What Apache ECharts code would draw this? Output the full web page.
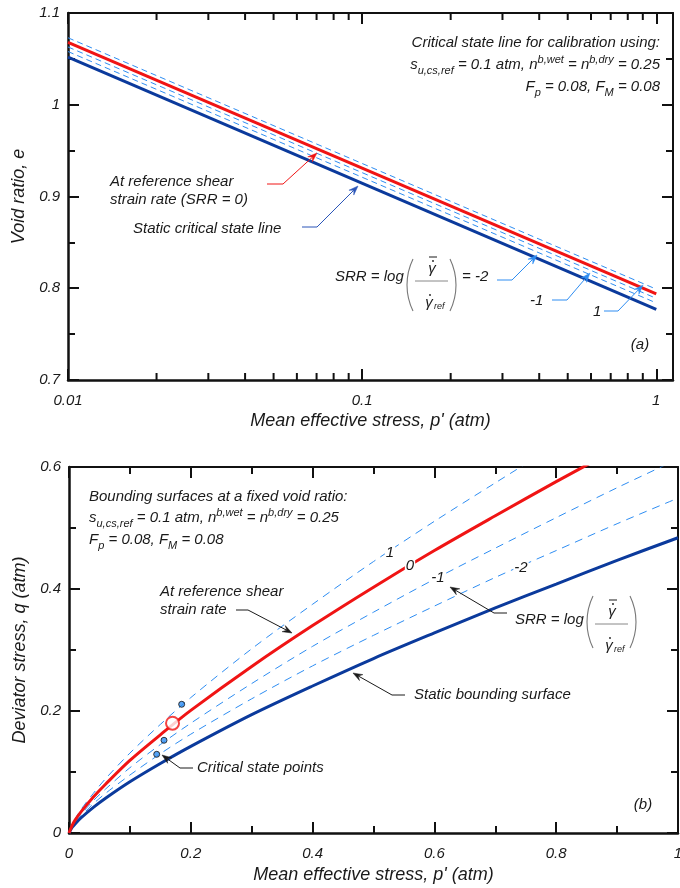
<!DOCTYPE html>
<html>
<head>
<meta charset="utf-8">
<script src="https://cdn.jsdelivr.net/npm/echarts@6/dist/echarts.min.js"></script>
<style>
html, body { margin: 0; padding: 0; background: #fff; }
#chart { width: 680px; height: 888px; }
</style>
</head>
<body>
<div id="chart"></div>
<script>
// (a) critical state lines: e at p' = 0.01 and 1 atm (straight on log axis)
var pA = [0.01, 1];
var eStatic = [1.052, 0.777];
var eRef = [1.068, 0.794];
var eP1 = [1.073, 0.799];
var eM1 = [1.063, 0.789];
var eM2 = [1.058, 0.784];
var minorA = [0.02, 0.03, 0.04, 0.05, 0.06, 0.07, 0.08, 0.09, 0.2, 0.3, 0.4, 0.5, 0.6, 0.7, 0.8, 0.9];

// (b) bounding surfaces, q read along p'
var pB = [0, 0.005, 0.01, 0.02, 0.04, 0.06, 0.1, 0.15, 0.2, 0.3, 0.4, 0.5, 0.6, 0.7, 0.8, 0.9, 1.0];
var qStatic = [0, 0.009, 0.015, 0.025, 0.042, 0.057, 0.084, 0.114, 0.142, 0.194, 0.241, 0.286, 0.328, 0.369, 0.408, 0.447, 0.484];
var qM2 = [0, 0.010, 0.017, 0.028, 0.048, 0.065, 0.095, 0.130, 0.162, 0.220, 0.274, 0.324, 0.372, 0.419, 0.463, 0.507, 0.549];
var qM1 = [0, 0.011, 0.019, 0.031, 0.053, 0.072, 0.107, 0.145, 0.180, 0.245, 0.306, 0.362, 0.416, 0.467, 0.517, 0.566, 0.613];
var qRef = [0, 0.012, 0.021, 0.035, 0.059, 0.080, 0.119, 0.161, 0.201, 0.273, 0.340, 0.403, 0.463, 0.520, 0.576, 0.630, 0.682];
var qP1 = [0, 0.013, 0.023, 0.039, 0.065, 0.089, 0.131, 0.178, 0.222, 0.302, 0.375, 0.445, 0.511, 0.574, 0.636, 0.695, 0.753];
var csPoints = [[0.185, 0.211], [0.156, 0.152], [0.144, 0.129]];
var refPoint = [[0.170, 0.180]];

var RED = '#f01414', BLUE = '#0b3a9c', LBLUE = '#2e8df2', INK = '#1a1a1a';
var FF = '"Liberation Sans", Arial, sans-serif';
var F15 = 'italic 15px ' + FF;

function zip(xs, ys) {
    return xs.map(function (x, i) { return [x, ys[i]]; });
}

function lineSeries(xi, data, color, width, dashed, dash) {
    return {
        type: 'line', xAxisIndex: xi, yAxisIndex: xi, data: data,
        showSymbol: false, symbol: 'none', smooth: xi === 2 ? 0.3 : false,
        lineStyle: { color: color, width: width, type: dashed ? dash : 'solid' },
        silent: true, z: dashed ? 2 : 3
    };
}

function axisBase(extra) {
    var a = {
        axisLine: { show: true, onZero: false, lineStyle: { color: '#111', width: 2.5 } },
        axisTick: { show: true, inside: true, length: 11, lineStyle: { color: '#111', width: 2 } },
        axisLabel: { fontStyle: 'italic', fontFamily: FF, fontSize: 15, color: INK },
        splitLine: { show: false },
        nameTextStyle: { fontStyle: 'italic', fontFamily: FF, fontSize: 18, color: INK }
    };
    return Object.assign(a, extra);
}

// ---- annotation helpers ----
function txt(x, y, s, extra) {
    return {
        type: 'text', x: x, y: y, z: 100, silent: true,
        style: Object.assign({ text: s, font: F15, fill: INK, align: 'left', verticalAlign: 'middle',
            textAlign: 'left', textVerticalAlign: 'middle' }, extra || {})
    };
}
function richTxt(x, y, s, align) {
    return {
        type: 'text', x: x, y: y, z: 100, silent: true,
        style: {
            text: s, font: F15, fill: INK, align: align, verticalAlign: 'middle',
            textAlign: align, textVerticalAlign: 'middle',
            rich: {
                b: { font: F15, fill: INK, lineHeight: 22 },
                sub: { font: 'italic 11px ' + FF, fill: INK, lineHeight: 11, verticalAlign: 'bottom' },
                sup: { font: 'italic 11px ' + FF, fill: INK, lineHeight: 11, verticalAlign: 'top' }
            }
        }
    };
}
function arrow(pts, color) {
    var n = pts.length, p1 = pts[n - 2], p2 = pts[n - 1];
    var ang = Math.atan2(p2[1] - p1[1], p2[0] - p1[0]);
    var L = 10, a = 0.35;
    var h1 = [p2[0] - L * Math.cos(ang - a), p2[1] - L * Math.sin(ang - a)];
    var h2 = [p2[0] - L * Math.cos(ang + a), p2[1] - L * Math.sin(ang + a)];
    var nb = [p2[0] - 0.6 * L * Math.cos(ang), p2[1] - 0.6 * L * Math.sin(ang)];
    return [
        { type: 'polyline', z: 100, silent: true, shape: { points: pts.slice(0, n - 1).concat([nb]) },
          style: { stroke: color, lineWidth: 1, fill: null } },
        { type: 'polygon', z: 100, silent: true, shape: { points: [h1, p2, h2, nb] },
          style: { fill: color, stroke: color, lineWidth: 0.5 } }
    ];
}
function paren(xl, cy, h, w, left) {
    var half = h / 2, r = (half * half + w * w) / (2 * w), al = Math.asin(half / r);
    var shape = left
        ? { cx: xl + r, cy: cy, r: r, startAngle: Math.PI - al, endAngle: Math.PI + al, clockwise: true }
        : { cx: xl + w - r, cy: cy, r: r, startAngle: -al, endAngle: al, clockwise: true };
    return { type: 'arc', z: 100, silent: true, shape: shape, style: { stroke: '#777', lineWidth: 1.1, fill: null } };
}
// SRR = log( gamma-bar-dot / gamma-dot-ref ) [tail]
function srr(x0, yc, pc, tail) {
    var out = [];
    out.push(txt(x0, yc, 'SRR = log'));
    var px = x0 + 72;
    out.push(paren(px, yc + pc, 52, 6, true));
    // numerator
    out.push(txt(px + 25, yc - 8, 'γ', { align: 'center', textAlign: 'center' }));
    out.push({ type: 'circle', z: 100, silent: true, shape: { cx: px + 26, cy: yc - 16, r: 0.9 }, style: { fill: INK } });
    out.push({ type: 'line', z: 100, silent: true, shape: { x1: px + 22, y1: yc - 20, x2: px + 30, y2: yc - 20 }, style: { stroke: INK, lineWidth: 1 } });
    // fraction bar
    out.push({ type: 'line', z: 100, silent: true, shape: { x1: px + 8, y1: yc + 4, x2: px + 41, y2: yc + 4 }, style: { stroke: '#888', lineWidth: 1 } });
    // denominator
    out.push(txt(px + 22, yc + 26, 'γ', { align: 'center', textAlign: 'center' }));
    out.push({ type: 'circle', z: 100, silent: true, shape: { cx: px + 23, cy: yc + 18, r: 0.9 }, style: { fill: INK } });
    out.push(txt(px + 27, yc + 29, 'ref', { font: 'italic 9px ' + FF }));
    out.push(paren(px + 43, yc + pc, 52, 6, false));
    if (tail) out.push(txt(px + 55, yc, tail));
    return out;
}

var graphics = [];
// panel (a) texts
graphics.push(richTxt(660, 43, '{b|Critical state line for calibration using:}', 'right'));
graphics.push(richTxt(660, 65, '{b|s}{sub|u,cs,ref}{b| = 0.1 atm, n}{sup|b,wet}{b| = n}{sup|b,dry}{b| = 0.25}', 'right'));
graphics.push(richTxt(660, 87, '{b|F}{sub|p}{b| = 0.08, F}{sub|M}{b| = 0.08}', 'right'));
graphics.push(txt(110, 182, 'At reference shear'));
graphics.push(txt(110, 200, 'strain rate (SRR = 0)'));
graphics = graphics.concat(arrow([[267, 184], [283, 184], [317, 153]], RED));
graphics.push(txt(133, 229, 'Static critical state line'));
graphics = graphics.concat(arrow([[302, 227], [317, 227], [358, 186]], '#2a55b8'));
graphics = graphics.concat(srr(335, 277, 8, '= -2'));
graphics = graphics.concat(arrow([[497, 280], [512, 280], [537, 255]], LBLUE));
graphics.push(txt(530, 301, '-1'));
graphics = graphics.concat(arrow([[552, 300], [567, 300], [590, 273]], LBLUE));
graphics.push(txt(593, 312, '1'));
graphics = graphics.concat(arrow([[604, 311], [618, 311], [643, 285]], LBLUE));
graphics.push(txt(640, 345, '(a)', { align: 'center', textAlign: 'center' }));

// panel (b) texts
graphics.push(richTxt(89, 497, '{b|Bounding surfaces at a fixed void ratio:}', 'left'));
graphics.push(richTxt(89, 518, '{b|s}{sub|u,cs,ref}{b| = 0.1 atm, n}{sup|b,wet}{b| = n}{sup|b,dry}{b| = 0.25}', 'left'));
graphics.push(richTxt(89, 540, '{b|F}{sub|p}{b| = 0.08, F}{sub|M}{b| = 0.08}', 'left'));
graphics.push(txt(160, 592, 'At reference shear'));
graphics.push(txt(160, 610, 'strain rate'));
graphics = graphics.concat(arrow([[236, 610], [248, 610], [292, 633]], INK));
var lblBg = { backgroundColor: '#fff', padding: [0, 1], align: 'center', textAlign: 'center' };
graphics.push(txt(390, 553, '1', lblBg));
graphics.push(txt(410, 566, '0', lblBg));
graphics.push(txt(438, 578, '-1', lblBg));
graphics.push(txt(521, 568, '-2', lblBg));
graphics = graphics.concat(srr(515, 620, 2, null));
graphics = graphics.concat(arrow([[507, 613], [494, 613], [450, 587]], INK));
graphics.push(txt(414, 695, 'Static bounding surface'));
graphics = graphics.concat(arrow([[405, 695], [392, 695], [353, 673]], INK));
graphics.push(txt(197, 768, 'Critical state points'));
graphics = graphics.concat(arrow([[193, 768], [180, 768], [162, 755]], INK));
graphics.push(txt(643, 805, '(b)', { align: 'center', textAlign: 'center' }));

var myChart = echarts.init(document.getElementById('chart'), null, { renderer: 'canvas' });

var option = {
    animation: false,
    backgroundColor: '#fff',
    grid: [
        { left: 68, top: 13, width: 605, height: 367, outerBoundsMode: 'none', containLabel: false },
        { left: 69, top: 467, width: 609, height: 366, outerBoundsMode: 'none', containLabel: false }
    ],
    xAxis: [
        axisBase({
            gridIndex: 0, type: 'log', logBase: 10, min: 0.01, max: 1.14, position: 'bottom',
            name: "Mean effective stress, p' (atm)", nameLocation: 'middle', nameGap: 32,
            axisLabel: { fontStyle: 'italic', fontFamily: FF, fontSize: 15, color: INK, margin: 13,
                formatter: function (v) {
                    var l = Math.log10(v);
                    if (Math.abs(l - Math.round(l)) > 1e-6) return '';
                    return String(+Math.pow(10, Math.round(l)).toPrecision(3));
                } }
        }),
        axisBase({
            gridIndex: 0, type: 'log', logBase: 10, min: 0.01, max: 1.14, position: 'top',
            axisLabel: { show: false }, axisLine: { show: true, onZero: false, lineStyle: { color: '#111', width: 2 } }
        }),
        axisBase({
            gridIndex: 1, type: 'value', min: 0, max: 1, interval: 0.2, position: 'bottom',
            name: "Mean effective stress, p' (atm)", nameLocation: 'middle', nameGap: 33,
            minorTick: { show: true, splitNumber: 2, length: 7, lineStyle: { color: '#111', width: 2 } },
            axisLabel: { fontStyle: 'italic', fontFamily: FF, fontSize: 15, color: INK, margin: 13 }
        }),
        axisBase({
            gridIndex: 1, type: 'value', min: 0, max: 1, interval: 0.2, position: 'top',
            minorTick: { show: true, splitNumber: 2, length: 7, lineStyle: { color: '#111', width: 2 } },
            axisLabel: { show: false }, axisLine: { show: true, onZero: false, lineStyle: { color: '#111', width: 2 } }
        })
    ],
    yAxis: [
        axisBase({
            gridIndex: 0, type: 'value', min: 0.7, max: 1.1, interval: 0.1, position: 'left',
            name: 'Void ratio, e', nameLocation: 'middle', nameGap: 38,
            minorTick: { show: true, splitNumber: 2, length: 7, lineStyle: { color: '#111', width: 2 } }
        }),
        axisBase({
            gridIndex: 0, type: 'value', min: 0.7, max: 1.1, interval: 0.1, position: 'right',
            minorTick: { show: true, splitNumber: 2, length: 7, lineStyle: { color: '#111', width: 2 } },
            axisLabel: { show: false }, axisLine: { show: true, onZero: false, lineStyle: { color: '#111', width: 2 } }
        }),
        axisBase({
            gridIndex: 1, type: 'value', min: 0, max: 0.6, interval: 0.2, position: 'left',
            name: 'Deviator stress, q (atm)', nameLocation: 'middle', nameGap: 38,
            minorTick: { show: true, splitNumber: 2, length: 7, lineStyle: { color: '#111', width: 2 } }
        }),
        axisBase({
            gridIndex: 1, type: 'value', min: 0, max: 0.6, interval: 0.2, position: 'right',
            minorTick: { show: true, splitNumber: 2, length: 7, lineStyle: { color: '#111', width: 2 } },
            axisLabel: { show: false }, axisLine: { show: true, onZero: false, lineStyle: { color: '#111', width: 2 } }
        })
    ],
    series: [
        // panel (a)
        lineSeries(0, zip(pA, eP1), LBLUE, 1, true, [6, 4]),
        lineSeries(0, zip(pA, eM1), LBLUE, 1, true, [6, 4]),
        lineSeries(0, zip(pA, eM2), LBLUE, 1, true, [6, 4]),
        lineSeries(0, zip(pA, eStatic), BLUE, 3, false),
        lineSeries(0, zip(pA, eRef), RED, 3, false),
        {
            // minor ticks of the log axis (2..9 in each decade), bottom and top
            type: 'custom', xAxisIndex: 0, yAxisIndex: 0, silent: true, clip: false,
            data: minorA.map(function (v) { return [v, 0.7]; }),
            renderItem: function (params, api) {
                var b = api.coord([api.value(0), 0.7]);
                var t = api.coord([api.value(0), 1.1]);
                return { type: 'group', children: [
                    { type: 'line', shape: { x1: b[0], y1: b[1], x2: b[0], y2: b[1] - 7 }, style: { stroke: '#111', lineWidth: 2 } },
                    { type: 'line', shape: { x1: t[0], y1: t[1], x2: t[0], y2: t[1] + 7 }, style: { stroke: '#111', lineWidth: 2 } }
                ] };
            }
        },
        // panel (b)
        lineSeries(2, zip(pB, qP1), LBLUE, 1, true, [8, 6]),
        lineSeries(2, zip(pB, qM1), LBLUE, 1, true, [8, 6]),
        lineSeries(2, zip(pB, qM2), LBLUE, 1, true, [8, 6]),
        lineSeries(2, zip(pB, qStatic), BLUE, 3, false),
        lineSeries(2, zip(pB, qRef), RED, 3, false),
        {
            type: 'scatter', xAxisIndex: 2, yAxisIndex: 2, data: csPoints, symbolSize: 6, silent: true, z: 5,
            itemStyle: { color: LBLUE, borderColor: '#111', borderWidth: 1 }
        },
        {
            type: 'scatter', xAxisIndex: 2, yAxisIndex: 2, data: refPoint, symbolSize: 13, silent: true, z: 6,
            itemStyle: { color: '#fff', borderColor: RED, borderWidth: 2 }
        }
    ],
    graphic: graphics
};

myChart.setOption(option);
</script>
</body>
</html>
